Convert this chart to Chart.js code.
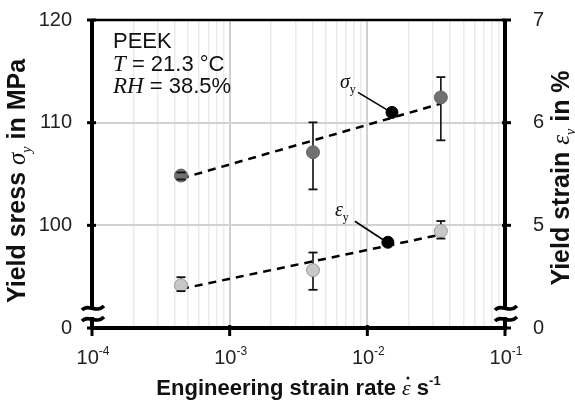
<!DOCTYPE html>
<html>
<head>
<meta charset="utf-8">
<script src="https://cdn.jsdelivr.net/npm/chart.js@4"></script>
<style>
  html, body { margin: 0; padding: 0; background: #fff; }
</style>
</head>
<body>
<canvas id="chart" width="575" height="401"></canvas>
<script>
// ---------- Data ----------
const strainRates = [4.43e-4, 4.03e-3, 3.42e-2];
const stressMean = [104.85, 107.12, 112.46];
const stressLow = [104.47, 103.5, 108.28];
const stressHigh = [105.15, 110.03, 114.44];
const strainMean = [4.417, 4.563, 4.945];
const strainLow = [4.359, 4.372, 4.871];
const strainHigh = [4.495, 4.735, 5.042];

// dashed trend lines (end points)
const fitRates = [4.43e-4, 3.42e-2];
const stressFit = [104.56, 111.85];
const strainFit = [4.38, 4.91];

// black marker dots that carry the series labels
const stressLabelAt = { x: 0.0151, y: 111.0 };
const strainLabelAt = { x: 0.0141, y: 4.835 };

const xDecades = [1e-4, 1e-3, 1e-2, 1e-1];
const xExponents = ["-4", "-3", "-2", "-1"];
const stressTicks = [90, 100, 110, 120];
const stressTickLabels = ["0", "100", "110", "120"];
const strainTicks = [4, 5, 6, 7];
const strainTickLabels = ["0", "5", "6", "7"];

const SANS = '"Liberation Sans", Arial, sans-serif';
const SERIF = '"Liberation Serif", "Times New Roman", serif';

// ---------- Helpers ----------
function pts(xs, ys) {
  return xs.map((x, i) => ({ x: x, y: ys[i] }));
}

// draw a run of text pieces with different fonts: [text, font, dy]
function drawParts(ctx, parts, x, y, align) {
  let total = 0;
  parts.forEach(p => { ctx.font = p[1]; total += ctx.measureText(p[0]).width; });
  let cx = align === "center" ? x - total / 2 : x;
  const starts = [];
  parts.forEach(p => {
    ctx.font = p[1];
    starts.push(cx);
    ctx.fillText(p[0], cx, y + (p[2] || 0));
    cx += ctx.measureText(p[0]).width;
  });
  return starts;
}

function logTicks() {
  const out = [];
  for (let e = -4; e < -1; e++) {
    for (let s = 1; s < 10; s++) out.push({ value: s * Math.pow(10, e), major: s === 1 });
  }
  out.push({ value: 1e-1, major: true });
  return out;
}

function breakMark(ctx, x, y) {
  ctx.beginPath();
  ctx.moveTo(x - 11, y + 2);
  ctx.bezierCurveTo(x - 5, y - 5, x + 3, y + 6, x + 11, y - 2);
  ctx.stroke();
}

function noPad(s) {
  s.paddingTop = 0;
  s.paddingBottom = 0;
}

// ---------- Error bars: stems behind the points, caps on top ----------
const errorBars = {
  id: "errorBars",
  beforeDatasetsDraw(chart) {
    const { ctx, scales } = chart;
    ctx.save();
    ctx.strokeStyle = "#111";
    ctx.lineWidth = 1.6;
    strainRates.forEach((r, i) => {
      const x = scales.x.getPixelForValue(r);
      [[scales.y, stressLow[i], stressHigh[i]], [scales.y2, strainLow[i], strainHigh[i]]].forEach(b => {
        ctx.beginPath();
        ctx.moveTo(x, b[0].getPixelForValue(b[1]));
        ctx.lineTo(x, b[0].getPixelForValue(b[2]));
        ctx.stroke();
      });
    });
    ctx.restore();
  },
  afterDatasetsDraw(chart) {
    const { ctx, scales } = chart;
    ctx.save();
    ctx.strokeStyle = "#111";
    ctx.lineWidth = 1.8;
    strainRates.forEach((r, i) => {
      const x = scales.x.getPixelForValue(r);
      [[scales.y, stressLow[i]], [scales.y, stressHigh[i]], [scales.y2, strainLow[i]], [scales.y2, strainHigh[i]]].forEach(b => {
        const y = b[0].getPixelForValue(b[1]);
        ctx.beginPath();
        ctx.moveTo(x - 4.5, y);
        ctx.lineTo(x + 4.5, y);
        ctx.stroke();
      });
    });
    ctx.restore();
  }
};

// ---------- Frame, ticks, axis breaks, titles, notes ----------
const decorations = {
  id: "decorations",
  afterDraw(chart) {
    const { ctx, chartArea: a, scales } = chart;
    ctx.save();
    ctx.strokeStyle = "#000";
    ctx.lineCap = "butt";

    // frame
    ctx.lineWidth = 2.5;
    ctx.beginPath(); ctx.moveTo(a.left, a.top); ctx.lineTo(a.right, a.top); ctx.stroke();
    ctx.lineWidth = 4;
    ctx.beginPath();
    ctx.moveTo(a.left, a.top - 1); ctx.lineTo(a.left, a.bottom);
    ctx.lineTo(a.right, a.bottom); ctx.lineTo(a.right, a.top - 1);
    ctx.stroke();

    // tick marks
    ctx.lineWidth = 3;
    stressTicks.forEach(v => {
      const y = scales.y.getPixelForValue(v);
      ctx.beginPath(); ctx.moveTo(a.left - 5, y); ctx.lineTo(a.left + 4, y); ctx.stroke();
    });
    strainTicks.forEach(v => {
      const y = scales.y2.getPixelForValue(v);
      ctx.beginPath(); ctx.moveTo(a.right - 3, y); ctx.lineTo(a.right + 6, y); ctx.stroke();
    });
    xDecades.forEach(v => {
      const x = scales.x.getPixelForValue(v);
      ctx.beginPath(); ctx.moveTo(x, a.bottom - 3); ctx.lineTo(x, a.bottom + 8); ctx.stroke();
    });

    // axis breaks
    [a.left, a.right].forEach(x => {
      ctx.fillStyle = "#fff";
      ctx.fillRect(x - 4, a.bottom - 19, 8, 8);
      ctx.lineWidth = 3.5;
      breakMark(ctx, x + 1, a.bottom - 20);
      breakMark(ctx, x + 1, a.bottom - 9);
    });

    // x tick labels 10^n
    ctx.fillStyle = "#222";
    ctx.textBaseline = "alphabetic";
    xDecades.forEach((v, i) => {
      const x = scales.x.getPixelForValue(v);
      drawParts(ctx, [["10", "20px " + SANS], [xExponents[i], "12px " + SANS, -9]], x + 1, a.bottom + 36, "center");
    });

    // axis titles
    ctx.fillStyle = "#111";
    const xb = "bold 22px " + SANS;
    const starts = drawParts(ctx, [
      ["Engineering strain rate ", xb],
      ["\u03B5", "italic 22px " + SERIF],
      [" s", xb],
      ["-1", "bold 13px " + SANS, -10]
    ], (a.left + a.right) / 2, 395, "center");
    // dot over epsilon
    ctx.font = "italic 22px " + SERIF;
    const wEps = ctx.measureText("\u03B5").width;
    ctx.beginPath();
    ctx.arc(starts[1] + wEps / 2 + 1.5, 378, 1.5, 0, Math.PI * 2);
    ctx.fill();

    const yb = "bold 25px " + SANS;
    ctx.save();
    ctx.translate(25, (a.top + a.bottom) / 2 + 7);
    ctx.rotate(-Math.PI / 2);
    drawParts(ctx, [
      ["Yield sress ", yb],
      ["\u03C3", "italic 25px " + SERIF],
      ["y", "italic 14px " + SERIF, 6],
      [" in MPa", yb]
    ], 0, 0, "center");
    ctx.restore();

    ctx.save();
    ctx.translate(569, (a.top + a.bottom) / 2 + 4);
    ctx.rotate(-Math.PI / 2);
    drawParts(ctx, [
      ["Yield strain ", yb],
      ["\u03B5", "italic 25px " + SERIF],
      ["y", "italic 14px " + SERIF, 6],
      [" in %", yb]
    ], 0, 0, "center");
    ctx.restore();

    // test conditions
    ctx.fillStyle = "#111";
    drawParts(ctx, [["PEEK", "22px " + SANS]], a.left + 21, a.top + 28, "left");
    drawParts(ctx, [["T", "italic 23px " + SERIF], [" = 21.3 \u00B0C", "22px " + SANS]], a.left + 21, a.top + 51, "left");
    drawParts(ctx, [["RH", "italic 23px " + SERIF], [" = 38.5%", "22px " + SANS]], a.left + 21, a.top + 73, "left");

    // series labels with leader lines
    const sx = scales.x.getPixelForValue(stressLabelAt.x);
    const sy = scales.y.getPixelForValue(stressLabelAt.y);
    const ex = scales.x.getPixelForValue(strainLabelAt.x);
    const ey = scales.y2.getPixelForValue(strainLabelAt.y);
    ctx.lineWidth = 1.6;
    ctx.beginPath(); ctx.moveTo(sx - 34, sy - 20); ctx.lineTo(sx - 4, sy - 2); ctx.stroke();
    ctx.beginPath(); ctx.moveTo(ex - 33, ey - 21); ctx.lineTo(ex - 4, ey - 2); ctx.stroke();
    drawParts(ctx, [["\u03C3", "italic 20px " + SERIF], ["y", "12px " + SERIF, 5]], sx - 52, sy - 24, "left");
    drawParts(ctx, [["\u03B5", "italic 20px " + SERIF], ["y", "12px " + SERIF, 5]], ex - 53, ey - 26, "left");

    ctx.restore();
  }
};

// ---------- Chart ----------
const ctx = document.getElementById("chart").getContext("2d");
new Chart(ctx, {
  type: "scatter",
  data: {
    datasets: [
      {
        type: "line", data: pts(fitRates, stressFit), yAxisID: "y",
        borderColor: "#000", borderWidth: 2.5, borderDash: [8, 6],
        pointRadius: 0, fill: false, order: 5
      },
      {
        type: "line", data: pts(fitRates, strainFit), yAxisID: "y2",
        borderColor: "#000", borderWidth: 2.5, borderDash: [8, 6],
        pointRadius: 0, fill: false, order: 5
      },
      {
        data: pts(strainRates, stressMean), yAxisID: "y",
        pointRadius: 6.5, backgroundColor: "#707070", borderColor: "#666", borderWidth: 1, order: 2
      },
      {
        data: pts(strainRates, strainMean), yAxisID: "y2",
        pointRadius: 6.5, backgroundColor: "#c8c8c8", borderColor: "#9a9a9a", borderWidth: 1, order: 2
      },
      {
        data: [stressLabelAt], yAxisID: "y",
        pointRadius: 6, backgroundColor: "#000", borderColor: "#000", order: 1
      },
      {
        data: [strainLabelAt], yAxisID: "y2",
        pointRadius: 6, backgroundColor: "#000", borderColor: "#000", order: 1
      }
    ]
  },
  plugins: [errorBars, decorations],
  options: {
    responsive: false,
    animation: false,
    layout: { padding: { top: 20, left: 0, right: 0, bottom: 0 } },
    plugins: { legend: { display: false }, tooltip: { enabled: false } },
    scales: {
      x: {
        type: "logarithmic", min: 1e-4, max: 1e-1,
        afterBuildTicks: s => { s.ticks = logTicks(); },
        afterFit: s => { s.height = 73; s.paddingLeft = 0; s.paddingRight = 0; },
        ticks: { display: false },
        border: { display: false },
        grid: {
          drawTicks: false,
          color: c => (c.tick && c.tick.major ? "#d0d0d0" : "#ebebeb"),
          lineWidth: c => (c.tick && c.tick.major ? 2 : 1.5)
        }
      },
      y: {
        position: "left", min: 90, max: 120,
        afterBuildTicks: s => { s.ticks = stressTicks.map(v => ({ value: v })); },
        afterFit: s => { s.width = 92; noPad(s); },
        ticks: {
          padding: 20, color: "#222", font: { family: SANS, size: 20 },
          callback: v => stressTickLabels[stressTicks.indexOf(v)]
        },
        border: { display: false },
        grid: { drawTicks: false, color: "#d2d2d2", lineWidth: 2 }
      },
      y2: {
        position: "right", min: 4, max: 7,
        afterBuildTicks: s => { s.ticks = strainTicks.map(v => ({ value: v })); },
        afterFit: s => { s.width = 70; noPad(s); },
        ticks: {
          padding: 20, color: "#222", font: { family: SANS, size: 20 },
          callback: v => strainTickLabels[strainTicks.indexOf(v)]
        },
        border: { display: false },
        grid: { display: false }
      }
    }
  }
});
</script>
</body>
</html>
